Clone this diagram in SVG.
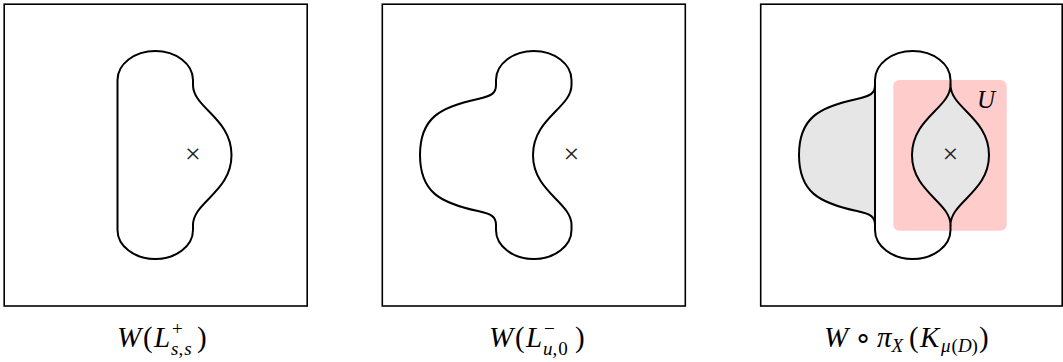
<svg xmlns="http://www.w3.org/2000/svg" width="1063" height="362" viewBox="0 0 1063 362">
<style>
.frame{fill:none;stroke:#000;stroke-width:1.6}
.curve{fill:none;stroke:#000;stroke-width:2;stroke-linejoin:round}
.shade{fill:#e6e6e6;stroke:#000;stroke-width:2;stroke-linejoin:round}
.region{fill:#ffcccc;stroke:none}
.mark{font-family:"Liberation Serif","Times New Roman",serif;font-size:28px;fill:#222;text-anchor:middle}
.lbl{font-family:"Liberation Serif","Times New Roman",serif;font-size:29px;fill:#000}
.it{font-style:italic}
.sm{font-size:19px}
</style>
<rect width="1063" height="362" fill="#fff"/>
<g id="panel1">
<rect class="frame" x="4.2" y="4.2" width="303" height="301.8"/>
<path id="shape1" class="curve" d="M117.5,80 A37.75,29 0 0 1 193,80 L193,85 C193,108 231.5,118 231.5,155 C231.5,192 193,202 193,225 L193,230 A37.75,29 0 0 1 117.5,230 Z"/>
<text class="mark" x="193" y="162.8">×</text>
<text id="label1" class="lbl" x="117" y="347"><tspan class="it">W</tspan><tspan x="143">(</tspan><tspan class="it" x="154">L</tspan><tspan class="sm" x="172" dy="-12">+</tspan><tspan class="sm it" x="171" dy="20">s</tspan><tspan class="sm">,</tspan><tspan class="sm it" dx="1">s</tspan><tspan x="197" dy="-8">)</tspan></text>
</g>
<g id="panel2">
<rect class="frame" x="382.3" y="4.2" width="303" height="301.8"/>
<path id="shape2" class="curve" d="M496,80 A37.75,29 0 0 1 571.5,80 L571.5,85 C571.5,108 533,118 533,155 C533,192 571.5,202 571.5,225 L571.5,230 A37.75,29 0 0 1 496,230 L496,225 C496,217 492,214 478,211 C440,203 420,192 420,155 C420,118 440,107 478,99 C492,96 496,93 496,85 Z"/>
<text class="mark" x="571.5" y="162.8">×</text>
<text id="label2" class="lbl" x="489" y="347"><tspan class="it">W</tspan><tspan x="515">(</tspan><tspan class="it" x="526">L</tspan><tspan class="sm" x="544" dy="-12">−</tspan><tspan class="sm it" x="543" dy="20">u</tspan><tspan class="sm">,</tspan><tspan class="sm" dx="1">0</tspan><tspan x="575" dy="-8">)</tspan></text>
</g>
<g id="panel3">
<rect class="frame" x="760.7" y="4.2" width="301.5" height="301.8"/>
<rect id="U" class="region" x="893.3" y="80" width="113.4" height="150.7" rx="6" ry="6"/>
<path id="leftpart" class="shade" d="M875,80 L875,85 C875,93 871,96 857,99 C819,107 799,118 799,155 C799,192 819,203 857,211 C871,214 875,217 875,225 L875,230 Z"/>
<path id="lens" class="shade" d="M950.5,85 C950.5,108 989,118 989,155 C989,192 950.5,202 950.5,225 C950.5,202 912,192 912,155 C912,118 950.5,108 950.5,85 Z"/>
<path id="band" class="curve" d="M950.5,85 L950.5,80 A37.75,29 0 0 0 875,80 L875,230 A37.75,29 0 0 0 950.5,230 L950.5,225"/>
<text class="mark" x="950.5" y="162.8">×</text>
<text class="lbl it" x="977" y="108" style="font-size:25px">U</text>
<text id="label3" class="lbl" x="824" y="347"><tspan class="it">W</tspan><tspan x="854">∘</tspan><tspan class="it" x="877">π</tspan><tspan class="sm it" dy="5">X</tspan><tspan x="909" dy="-5">(</tspan><tspan class="it" x="920">K</tspan><tspan class="sm it" x="941" dy="5">μ</tspan><tspan class="sm" dx="1">(</tspan><tspan class="sm it">D</tspan><tspan class="sm">)</tspan><tspan dx="1" dy="-5">)</tspan></text>
</g>
</svg>
